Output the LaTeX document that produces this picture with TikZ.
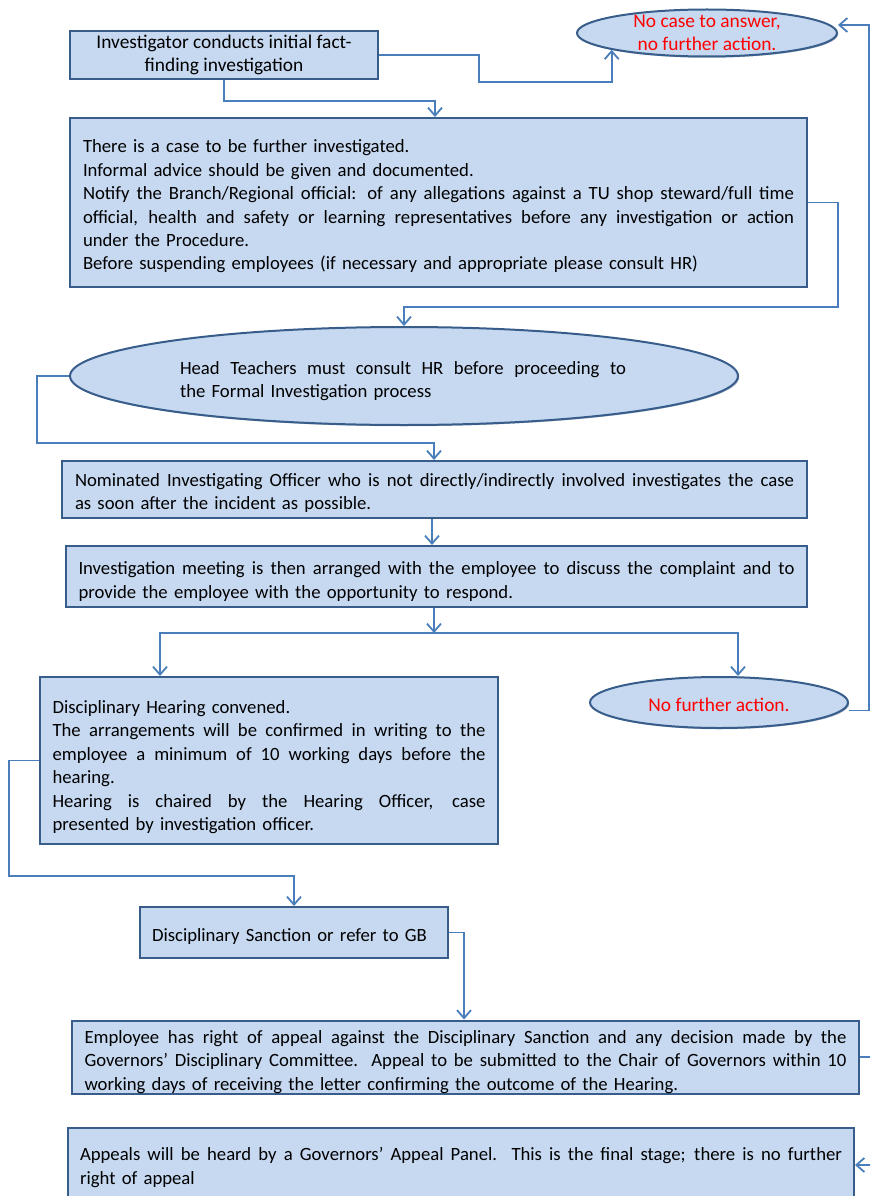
\documentclass[tikz,border=0pt]{standalone}
\usepackage{fontspec}
\setmainfont{Carlito}
\usetikzlibrary{shapes.geometric,arrows.meta,shadows}
\definecolor{fillb}{HTML}{C6D9F1}
\definecolor{edgeb}{HTML}{385D8A}
\definecolor{lineb}{HTML}{4A7EBB}
\definecolor{redt}{HTML}{FF0000}
\newcommand\jl[1]{{\spaceskip=0pt\xspaceskip=0pt\makebox[\linewidth][s]{#1}}}
\begin{document}
\begin{tikzpicture}[x=1pt,y=-1pt,
  txt/.style={font=\fontsize{18.7}{23.4}\selectfont},
  bigtxt/.style={font=\fontsize{19.4}{23.6}\selectfont},
  shad/.style={drop shadow={shadow xshift=1.2pt,shadow yshift=-1.2pt,opacity=0.45,fill=edgeb}},
  box/.style={draw=edgeb,fill=fillb,line width=2pt,rectangle,inner sep=0pt,txt,align=left,shad},
  tdown/.style={execute at begin node={\rule{0pt}{#1}}},
  ell/.style={draw=edgeb,fill=fillb,line width=2pt,ellipse,inner sep=0pt,shad},
  redtxt/.style={bigtxt,text=redt,align=center,inner sep=0pt},
  conn/.style={draw=lineb,line width=1.8pt,-{Straight Barb[length=8pt,width=14pt,line width=1.8pt]}}]
\useasboundingbox (0,0) rectangle (870,1196);
\clip (0,0) rectangle (870,1196);

% nodes
\node[box,bigtxt,minimum width=308pt,minimum height=48pt,align=center] (b1) at (224,55)
  {Investigator conducts initial fact-\\finding investigation};
\node[ell,minimum width=260pt,minimum height=47pt] (e1) at (707,33) {};
\node[redtxt] at (e1) {No case to answer,\\no further action.};

\node[box,tdown=21pt,minimum width=737pt,minimum height=169pt,text width=711pt] (b2) at (438.5,202.5)
  {There is a case to be further investigated.\\
   Informal advice should be given and documented.\\
   \jl{Notify the Branch/Regional official: of any allegations against a TU shop steward/full time}\\
   \jl{official, health and safety or learning representatives before any investigation or action}\\
   under the Procedure.\\
   Before suspending employees (if necessary and appropriate please consult HR)};

\node[ell,minimum width=668pt,minimum height=98pt] (e2) at (404,376) {};
\node[txt,text width=446pt,align=left,inner sep=0pt] at (403,381)
  {\jl{Head Teachers must consult HR before proceeding to}\\the Formal Investigation process};

\node[box,tdown=20pt,minimum width=745pt,minimum height=57pt,text width=719pt] (b3) at (434.5,489.5)
  {\jl{Nominated Investigating Officer who is not directly/indirectly involved investigates the case}\\
   as soon after the incident as possible.};

\node[box,tdown=23pt,minimum width=741pt,minimum height=61pt,text width=716pt] (b4) at (436.5,576.5)
  {\jl{Investigation meeting is then arranged with the employee to discuss the complaint and to}\\
   provide the employee with the opportunity to respond.};

\coordinate (j) at (434,633);

\node[box,tdown=26pt,minimum width=458pt,minimum height=167pt,text width=433pt] (b5) at (269,760.5)
  {Disciplinary Hearing convened.\\
   \jl{The arrangements will be confirmed in writing to the}\\
   \jl{employee a minimum of 10 working days before the}\\
   hearing.\\
   \jl{Hearing is chaired by the Hearing Officer, case}\\
   presented by investigation officer.};

\node[ell,minimum width=258pt,minimum height=51pt] (e3) at (719,702.5) {};
\node[redtxt] at ([yshift=-2pt]e3.center) {No further action.};

\node[box,tdown=20pt,minimum width=308pt,minimum height=51pt,text width=284pt] (b6) at (294,932.5)
  {Disciplinary Sanction or refer to GB};

\node[box,tdown=23pt,minimum width=787pt,minimum height=70pt,text width=762pt] (b7) at (465.5,1057)
  {\jl{Employee has right of appeal against the Disciplinary Sanction and any decision made by the}\\
   \jl{Governors’ Disciplinary Committee. Appeal to be submitted to the Chair of Governors within 10}\\
   working days of receiving the letter confirming the outcome of the Hearing.};

\node[box,tdown=18pt,minimum width=786pt,minimum height=74pt,text width=762pt] (b8) at (461,1165)
  {\jl{Appeals will be heard by a Governors’ Appeal Panel. This is the final stage; there is no further}\\
   right of appeal};

% connectors
\draw[conn] (b1.east) -- ++(100,0) -- ++(0,27) -| (e1.190);
\draw[conn] (b1.south) -- ++(0,21) -| ([xshift=-3.5pt]b2.north);
\draw[conn] (b2.east) -- ++(30,0) -- ++(0,104.5) -| (e2.north);
\draw[conn] (e2.west) -- ++(-32,0) -- ++(0,67) -| ([xshift=-0.5pt]b3.north);
\draw[conn] ([xshift=-2.5pt]b3.south) -- ([xshift=-4.5pt]b4.north);
\draw[conn] (j |- b4.south) -- (j);
\draw[conn] (j) -| ([xshift=-109pt]b5.north);
\draw[conn] (j) -| ([xshift=19pt]e3.north);
\draw[conn] ([yshift=-8pt]e3.east) -- ++(20,0) |- ([yshift=8pt]e1.east);
\draw[conn] (b5.west) -- ++(-30,0) -- ++(0,115.5) -| (b6.north);
\draw[conn] (b6.east) -| ([xshift=-1.5pt]b7.north);
\draw[conn] (b7.east) -- ++(25,0) |- (b8.east);
\end{tikzpicture}
\end{document}
